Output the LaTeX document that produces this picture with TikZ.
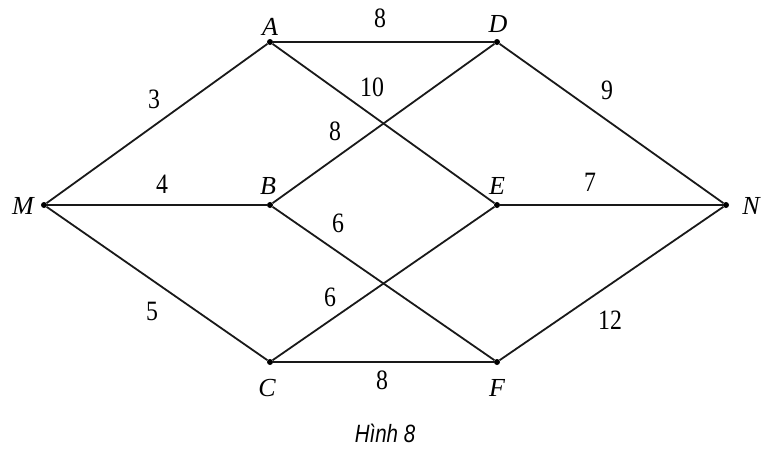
\documentclass[tikz,border=0pt]{standalone}
\usepackage{fontspec}
\setmainfont{Liberation Serif}
\newfontfamily\capfont{Liberation Sans}
\tikzset{
  edge/.style={line width=1.8pt, black!90},
  vtx/.style={circle, fill=black, inner sep=0pt, minimum size=6pt},
  vname/.style={font=\fontsize{26}{26}\selectfont\itshape, inner sep=0pt},
  wlabel/.style={font=\fontsize{28}{28}\selectfont, inner sep=0pt},
}
\newcommand{\wnum}[1]{\scalebox{0.85}[1]{#1}}
\begin{document}
\begin{tikzpicture}[x=1pt,y=-1pt]
\useasboundingbox (0,0) rectangle (770,456);
\node[vtx] (M) at (44,205) {};
\node[vtx] (A) at (270,42) {};
\node[vtx] (D) at (497,42) {};
\node[vtx] (B) at (270,205) {};
\node[vtx] (E) at (497,205) {};
\node[vtx] (N) at (726,205) {};
\node[vtx] (C) at (270,362) {};
\node[vtx] (F) at (497,362) {};
\draw[edge] (M) -- (A);
\draw[edge] (M) -- (B);
\draw[edge] (M) -- (C);
\draw[edge] (A) -- (D);
\draw[edge] (A) -- (E);
\draw[edge] (B) -- (D);
\draw[edge] (B) -- (F);
\draw[edge] (C) -- (E);
\draw[edge] (C) -- (F);
\draw[edge] (D) -- (N);
\draw[edge] (E) -- (N);
\draw[edge] (F) -- (N);
\node[vname] (lM) at (23,206) {M};
\node[vname] (lA) at (270,27) {A};
\node[vname] (lD) at (498,24) {D};
\node[vname] (lB) at (268,186) {B};
\node[vname] (lE) at (497,186) {E};
\node[vname] (lN) at (751,206) {N};
\node[vname] (lC) at (267,388) {C};
\node[vname] (lF) at (497,388) {F};
\node[wlabel] (w1) at (154,99) {\wnum{3}};
\node[wlabel] (w2) at (380,18) {\wnum{8}};
\node[wlabel] (w3) at (372,87) {\wnum{10}};
\node[wlabel] (w4) at (335,131) {\wnum{8}};
\node[wlabel] (w5) at (607,90) {\wnum{9}};
\node[wlabel] (w6) at (162,184) {\wnum{4}};
\node[wlabel] (w7) at (590,182) {\wnum{7}};
\node[wlabel] (w8) at (338,223) {\wnum{6}};
\node[wlabel] (w9) at (330,297) {\wnum{6}};
\node[wlabel] (w10) at (152,311) {\wnum{5}};
\node[wlabel] (w11) at (610,320) {\wnum{12}};
\node[wlabel] (w12) at (382,380) {\wnum{8}};
\node[font=\fontsize{25}{25}\selectfont\capfont\itshape, inner sep=0pt] (cap) at (385,433) {\scalebox{0.82}[1]{Hình 8}};
\end{tikzpicture}
\end{document}
